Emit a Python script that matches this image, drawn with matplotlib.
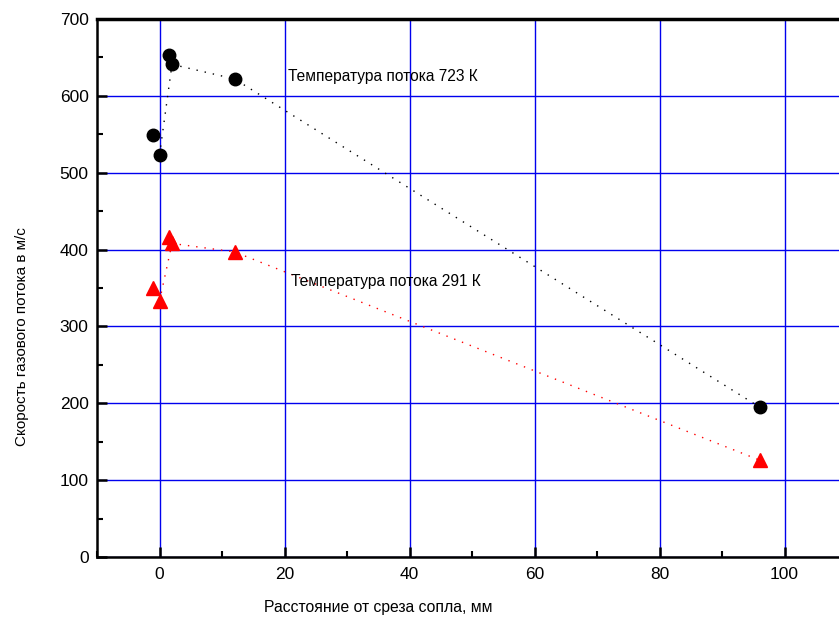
import matplotlib
matplotlib.use('Agg')
import matplotlib.pyplot as plt
from matplotlib.ticker import MultipleLocator

plt.rcParams['font.family'] = ['Liberation Sans', 'DejaVu Sans']

# data
x_hot = [-1, 0, 1.5, 2, 12, 96]
v_hot = [549, 523, 653, 641, 622, 195]
x_hot_line = [0, 2, 12, 96]
v_hot_line = [523, 641, 622, 195]

x_cold = [-1, 0, 1.5, 2, 12, 96]
v_cold = [350, 333, 416, 408, 397, 126]
x_cold_line = [0, 2, 12, 96]
v_cold_line = [333, 408, 397, 126]

label_hot = 'Температура потока 723 К'
label_cold = 'Температура потока 291 К'

fig = plt.figure(figsize=(8.39, 6.22), dpi=100)
ax = fig.add_axes([97/839, 65/622, 742/839, 538/622])

ax.plot(x_hot_line, v_hot_line, color='black', lw=1, ls=(0, (1, 5)))
ax.plot(x_cold_line, v_cold_line, color='red', lw=1, ls=(0, (1, 5)))
ax.plot(x_hot, v_hot, 'o', color='black', ms=9, zorder=3)
ax.plot(x_cold, v_cold, '^', color='red', ms=10, zorder=3)

ax.text(20.6, 625, label_hot, fontsize=11.2, va='center', ha='left')
ax.text(21.1, 358, label_cold, fontsize=11.2, va='center', ha='left')

ax.set_xlim(-10, 108.7)
ax.set_ylim(0, 700)
ax.xaxis.set_major_locator(MultipleLocator(20))
ax.xaxis.set_minor_locator(MultipleLocator(10))
ax.yaxis.set_major_locator(MultipleLocator(100))
ax.yaxis.set_minor_locator(MultipleLocator(50))

ax.grid(True, which='major', color='#0000ee', lw=1)
ax.set_axisbelow(True)

ax.spines['right'].set_visible(False)
for s in ['left', 'bottom']:
    ax.spines[s].set_linewidth(1.8)
ax.spines['top'].set_linewidth(2.5)

ax.tick_params(which='both', direction='in', top=False, right=False, labelsize=12.5)
ax.tick_params(which='major', length=7, width=1.8)
ax.tick_params(which='minor', length=4, width=1.5)
ax.tick_params(axis='x', pad=7)
ax.tick_params(axis='y', pad=6)

ax.set_xlabel('Расстояние от среза сопла, мм', fontsize=11.3, va='center', ha='center')
ax.set_ylabel('Скорость газового потока в м/с', fontsize=11, va='center', ha='center')
ax.xaxis.set_label_coords(0.379, -0.093)
ax.yaxis.set_label_coords(-0.101, 0.41)

fig.savefig('out.png', dpi=100)
